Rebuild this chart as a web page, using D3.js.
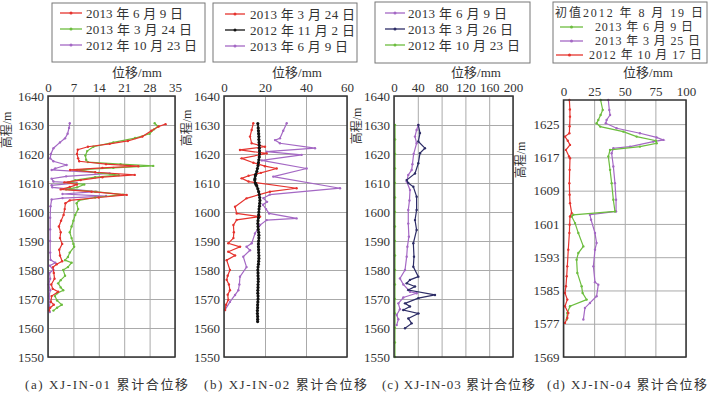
<!DOCTYPE html>
<html>
<head>
<meta charset="utf-8">
<script src="https://cdn.jsdelivr.net/npm/d3@7"></script>
<style>
  body { margin: 0; background: #fff; }
  svg text { font-family: "Liberation Serif", "Noto Sans CJK SC", serif; fill: #333; }
</style>
</head>
<body>
<div id="chart"></div>
<script>
// ---- data: [elevation m, displacement mm] ----

// (a) XJ-IN-01
const a_jun09 = [[1630.3,32.4],[1629.5,30.5],[1628,28.5],[1626,26],[1624.5,22],[1623.5,17],[1622.5,11],[1621.5,8.2],[1620,8],[1618.5,8.3],[1617.5,8.6],[1616.5,16],[1615.8,24.9],[1615.2,15],[1614.5,6.1],[1613.7,13],[1612.8,23.9],[1612,15],[1611,9],[1610.2,4.5],[1609.5,8],[1608.6,6],[1607.8,3.5],[1607,12],[1605.9,21.7],[1605,14],[1604,6],[1603,4.8],[1601,4.6],[1599,4.3],[1597,3.6],[1595,3.0],[1593,3.5],[1591,3.3],[1589,3.9],[1587,3.1],[1585,3.3],[1583,3.9],[1582,2.4],[1581,1.4],[1579,1.6],[1577,1.8],[1575,0.9],[1573.5,1.3],[1572.5,2.8],[1571,1.0],[1569,0.8],[1568,1.6],[1567,0.6],[1566,0.3]];
const a_mar24 = [[1630.6,29.4],[1629.5,30.3],[1628.5,29.2],[1627,28],[1625.5,24],[1624,18],[1622.5,12.5],[1621,10.8],[1619.5,10.3],[1618,10.5],[1617.2,11],[1616.5,20],[1615.9,29],[1615.2,18],[1614.5,8],[1613.5,14],[1612.7,19.5],[1612,13],[1611,7.5],[1610.2,5.5],[1609.5,10],[1608.5,8],[1607.8,5],[1607,13],[1606,20.7],[1605,13],[1604,8.5],[1603,7.9],[1601,8.3],[1599,7.5],[1597,7],[1595,6.5],[1593,6],[1591,6.5],[1589,7],[1588,7.2],[1586,6],[1584.5,5.5],[1583.4,4.7],[1582.5,6.5],[1581,5.5],[1580,4.2],[1578,4.7],[1576.5,3.5],[1575.4,2.8],[1574,3.5],[1573,4.2],[1572,2.5],[1571,1.9],[1569.5,2.5],[1568,3.8],[1567,2.5],[1566,1.5]];
const a_oct23 = [[1630.6,6],[1629,5.8],[1627,5.4],[1625.4,4.7],[1624,3.3],[1622,1.5],[1620,0.8],[1618.5,0.6],[1617.5,1.5],[1616.2,5.1],[1615,2],[1614.5,1],[1613.3,17],[1612.3,5],[1611.5,1],[1610.5,1.5],[1610,7.9],[1609.2,1],[1608.5,1.2],[1607,13.4],[1606.2,4],[1605.5,16],[1604.8,4],[1604.3,1],[1602,0.7],[1598,0.6],[1594,0.6],[1590,0.6],[1586,0.6],[1583.5,0.7],[1582.5,2],[1581.5,0.5],[1580,1.5],[1579,0.4],[1577,0.6],[1575,0.2],[1573,0.6],[1571,0.3],[1569,0.6],[1567,0.3],[1565.5,0.5]];

// (b) XJ-IN-02
const b_mar24 = [[1630.6,14.3],[1628.3,13.5],[1626,12.7],[1623.7,13.5],[1622.5,20],[1621.4,7.8],[1620.2,20.8],[1618.5,8.6],[1617,14.3],[1615.8,20],[1615,25.7],[1613.5,18],[1612.5,12],[1611.6,8.6],[1610.5,12],[1608.2,35.4],[1607,22.4],[1604.7,11],[1601.8,5.4],[1599.5,6.2],[1598.4,17.6],[1597.3,6.2],[1595.5,4.6],[1593,4.8],[1591,4.6],[1589.2,2.1],[1588,7.8],[1586.3,2.1],[1585,5.4],[1583.4,1.3],[1580,2.9],[1578,1.8],[1576.6,1.3],[1575,2.4],[1573,2.9],[1571.5,1.8],[1569.7,2.1],[1568,1.0],[1566.2,0.5]];
const b_nov02 = [[1630.5,16.5],[1629,16.7],[1628,16.8],[1627,16.9],[1626,17],[1625,17],[1624,17.1],[1623,17.2],[1622,17.2],[1621,17.3],[1620,17.3],[1619,17.2],[1618,17],[1617,16.8],[1616,16.6],[1615,16.3],[1614,16],[1613,15.5],[1612.5,15.3],[1611.5,15.1],[1611,15],[1610,15.3],[1609.5,15.6],[1609,16],[1608,16.5],[1607,16.9],[1606,17.2],[1605,17.4],[1604,17.5],[1603,17.4],[1602,17.3],[1601,17.1],[1600,17],[1599,16.9],[1598,16.8],[1597,16.6],[1596,16.5],[1595,16.6],[1594,16.7],[1593,16.9],[1592,17],[1591,17],[1590,16.9],[1589,16.8],[1588,16.8],[1587,16.9],[1586,16.9],[1585,17],[1584,17],[1583,16.9],[1582,16.8],[1581,16.6],[1580,16.5],[1579,16.6],[1578,16.6],[1577,16.7],[1576,16.7],[1575,16.6],[1574,16.6],[1573,16.5],[1572,16.5],[1571,16.6],[1570,16.6],[1569,16.5],[1568,16.4],[1567,16.4],[1566,16.3],[1565,16.3],[1564,16.4],[1563,16.4],[1562.2,16.4]];
const b_jun09 = [[1630.6,30.6],[1628,28.9],[1625.4,27.3],[1624.8,24.9],[1623.7,27.3],[1622,44.4],[1620.8,20.8],[1619.7,37.9],[1617.8,18.4],[1615,40.3],[1612.2,24],[1608.2,56.6],[1606,22.4],[1604.8,19.2],[1603.5,21],[1602.5,19],[1601,20.5],[1599.5,22],[1597.8,35.4],[1597.2,20.8],[1595.5,17.6],[1592.6,15.1],[1589.2,13.5],[1588,11],[1586.8,12.7],[1584.6,9.4],[1581,11],[1577.7,7.8],[1575,7.5],[1573,7],[1571.4,5.4],[1569,2.9],[1566.2,0.5]];

// (c) XJ-IN-03
const c_jun09 = [[1630,40.9],[1628.3,38],[1626,35.3],[1623.7,38],[1620,33],[1616.5,31],[1614.5,29.7],[1612.8,24],[1610.5,21.3],[1607.6,26.9],[1604,26],[1600.7,24],[1596,24],[1591.5,25],[1588,22.5],[1584.6,21.3],[1580,18.5],[1577.1,10],[1575,15.7],[1572.5,26.9],[1572,38],[1570.5,15.7],[1568.5,7.3],[1566.5,10],[1564.5,4.5],[1563,7.3],[1561,4.5]];
const c_mar26 = [[1630,40.9],[1627.2,43.7],[1624.3,40.9],[1622,52],[1620.3,43.7],[1616.8,40.9],[1613.3,35.3],[1611,21.3],[1610,24],[1608.7,32.5],[1605.3,38],[1600.7,38],[1597.2,35.3],[1593.8,38],[1589.2,32.5],[1584.6,33.6],[1581.1,32.5],[1577.7,40.9],[1576.6,26.9],[1575.4,21.3],[1574.3,35.3],[1573.1,24],[1571.4,68.9],[1570.3,40.9],[1568.5,18.5],[1567.4,26.9],[1566.2,15.7],[1565,40.9],[1563.3,24],[1561.6,29.7],[1559.9,18.5]];
const c_oct23 = [[1630,1.7],[1625,1.8],[1620,1.8],[1615,1.7],[1610,1.6],[1605,1.7],[1600,1.7],[1595,1.6],[1590,1.6],[1585,1.7],[1580,1.7],[1575,1.6],[1570,1.6],[1565,1.7],[1560,1.7],[1555,1.6],[1550,1.6]];

// (d) XJ-IN-04
const d_jun09 = [[1630.8,30.3],[1628.4,32],[1627.2,30.3],[1626,28.4],[1625.2,27],[1624.4,30],[1623.2,48.8],[1622,59.7],[1621,75.5],[1620.4,76],[1619.6,62.4],[1618.8,38],[1617.2,36.6],[1614,38],[1610.8,39.3],[1606.8,40.7],[1604,42],[1603.2,8],[1602.8,6.7],[1601.2,9.4],[1598.8,12.1],[1595.6,16.2],[1594,12.1],[1592.4,10.7],[1589.2,11.3],[1586,14.8],[1584.4,15.6],[1582.8,18.9],[1581.2,5.3],[1579.6,3.1],[1578,2.6]];
const d_mar25 = [[1630.8,36.6],[1628.4,37.4],[1627.2,38],[1626,35.2],[1625.2,34.5],[1624,43.4],[1622.8,62.4],[1621.8,76],[1621.2,81.5],[1620.8,73.3],[1619.6,54.3],[1619.2,40.7],[1618,39.3],[1614.8,40.7],[1610.8,42],[1606.8,42.9],[1604,42.9],[1603.2,21.6],[1602,22.5],[1598.8,25.7],[1596.4,27],[1594.8,25.7],[1590.8,24.4],[1587,25.7],[1586.4,28.4],[1583.6,27],[1582,21.6],[1580.8,17.5],[1578,16.2]];
const d_oct17 = [[1630.8,4.8],[1628.5,5.2],[1626.8,5.3],[1624.5,5.0],[1622.8,4.8],[1622,1.2],[1621,3.5],[1620,5.3],[1618.8,2],[1617.2,4.5],[1616.8,5.3],[1614,5],[1610.8,4.8],[1608,5],[1606,5.3],[1603.6,6.7],[1602.8,5.3],[1600.8,5],[1598.8,4.8],[1594.8,3.9],[1590.8,3.1],[1588.4,2.6],[1586,2],[1584.4,1.2],[1582.8,3.1],[1581.2,1.2],[1579.6,3.9],[1578.4,3.1],[1577.2,1.2]];

// axis ticks
const xTicksA = [0, 7, 14, 21, 28, 35];
const xTicksB = [0, 20, 40, 60];
const xTicksC = [0, 40, 80, 120, 160, 200];
const xTicksD = [0, 25, 50, 75, 100];
const elevTicks = [1550, 1560, 1570, 1580, 1590, 1600, 1610, 1620, 1630, 1640];
const elevTicksD = [1569, 1577, 1585, 1593, 1601, 1609, 1617, 1625];

// legend labels
const legendA = ["2013 年 6 月 9 日", "2013 年 3 月 24 日", "2012 年 10 月 23 日"];
const legendB = ["2013 年 3 月 24 日", "2012 年 11 月 2 日", "2013 年 6 月 9 日"];
const legendC = ["2013 年 6 月 9 日", "2013 年 3 月 26 日", "2012 年 10 月 23 日"];
const legendD = ["2013 年 6 月 9 日", "2013 年 3 月 25 日", "2012 年 10 月 17 日"];
const legendDTitle = "初值2012 年 8 月 19 日";
const captions = ["(a) XJ-IN-01 累计合位移", "(b) XJ-IN-02 累计合位移", "(c) XJ-IN-03 累计合位移", "(d) XJ-IN-04 累计合位移"];

// colours
const RED = "#e5332e", GREEN = "#6cbd3e", PURPLE = "#a468c4", BLACK = "#111", NAVY = "#2c2c66";

const svg = d3.select("#chart")
    .append("svg")
    .attr("width", 708)
    .attr("height", 393);

// panel layout
const panels = [
    { left: 48, right: 175, top: 96, bottom: 357, xDomain: [0, 35], xTicks: xTicksA, yDomain: [1550, 1640], yTicks: elevTicks,
      series: [[a_oct23, PURPLE], [a_mar24, GREEN], [a_jun09, RED]],
      titleX: 137, ylabX: 7, ylabY: 130, capX: 25, capW: 163 },
    { left: 224, right: 347, top: 96, bottom: 357, xDomain: [0, 60], xTicks: xTicksB, yDomain: [1550, 1640], yTicks: elevTicks,
      series: [[b_jun09, PURPLE], [b_mar24, RED], [b_nov02, BLACK]],
      titleX: 297, ylabX: 187, ylabY: 128, capX: 204, capW: 163 },
    { left: 394, right: 513, top: 96, bottom: 357, xDomain: [0, 200], xTicks: xTicksC, yDomain: [1550, 1640], yTicks: elevTicks,
      series: [[c_oct23, GREEN], [c_jun09, PURPLE], [c_mar26, NAVY]],
      titleX: 476, ylabX: 357, ylabY: 126, capX: 382, capW: 153 },
    { left: 563.5, right: 686, top: 100, bottom: 357, xDomain: [0, 100], xTicks: xTicksD, yDomain: [1569, 1630.8], yTicks: elevTicksD,
      series: [[d_mar25, PURPLE], [d_jun09, GREEN], [d_oct17, RED]],
      titleX: 648, ylabX: 521, ylabY: 160, capX: 547, capW: 160 }
];

panels.forEach((p, i) => {
    const w = p.right - p.left, h = p.bottom - p.top;
    const g = svg.append("g").attr("transform", `translate(${p.left},${p.top})`);
    const x = d3.scaleLinear().domain(p.xDomain).range([0, w]);
    const y = d3.scaleLinear().domain(p.yDomain).range([h, 0]);

    // grid
    g.append("g")
        .call(d3.axisLeft(y).tickValues(p.yTicks).tickSize(-w).tickFormat(""))
        .call(s => s.select(".domain").remove())
        .selectAll("line").attr("stroke", "#aaa").attr("stroke-width", 1);
    g.append("g")
        .call(d3.axisTop(x).tickValues(p.xTicks).tickSize(-h).tickFormat(""))
        .call(s => s.select(".domain").remove())
        .selectAll("line").attr("stroke", "#aaa").attr("stroke-width", 1);

    // series
    const line = d3.line().x(d => x(d[1])).y(d => y(d[0]));
    p.series.forEach(([data, color]) => {
        g.append("path")
            .datum(data)
            .attr("fill", "none")
            .attr("stroke", color)
            .attr("stroke-width", color === BLACK ? 1.6 : 1.2)
            .attr("d", line);
        g.selectAll(null)
            .data(data)
            .enter()
            .append("circle")
            .attr("cx", d => x(d[1]))
            .attr("cy", d => y(d[0]))
            .attr("r", color === BLACK ? 1.6 : 1.2)
            .attr("fill", color);
    });

    // frame
    g.append("rect")
        .attr("width", w).attr("height", h)
        .attr("fill", "none").attr("stroke", "#333").attr("stroke-width", 1.5);

    // tick labels
    g.append("g")
        .call(d3.axisTop(x).tickValues(p.xTicks).tickSize(0).tickPadding(4).tickFormat(d3.format("d")))
        .call(s => s.select(".domain").remove())
        .selectAll("text").style("font-size", "13px").attr("fill", "#333");
    g.append("g")
        .call(d3.axisLeft(y).tickValues(p.yTicks).tickSize(0).tickPadding(4).tickFormat(d3.format("d")))
        .call(s => s.select(".domain").remove())
        .selectAll("text").style("font-size", "13px").attr("fill", "#333");

    // axis titles
    svg.append("text")
        .attr("x", p.titleX).attr("y", 72)
        .attr("text-anchor", "middle").attr("dominant-baseline", "central")
        .style("font-size", "13px")
        .text("位移/mm");
    svg.append("text")
        .attr("transform", `translate(${p.ylabX},${p.ylabY}) rotate(-90)`)
        .attr("text-anchor", "middle").attr("dominant-baseline", "central")
        .style("font-size", "12px")
        .text("高程/m");

    // caption
    svg.append("text")
        .attr("x", p.capX).attr("y", 384)
        .attr("dominant-baseline", "central")
        .attr("textLength", p.capW).attr("lengthAdjust", "spacing")
        .style("font-size", "13px")
        .text(captions[i]);
});

// legends
const legends = [
    { box: [52, 3, 153, 59], lineX: [60, 82], textX: 86, rows: [13, 29, 45], widths: [97, 106, 111], labels: legendA, colors: [RED, GREEN, PURPLE], fs: 13 },
    { box: [213, 3, 144, 59], lineX: [225, 245], textX: 250, rows: [14, 30, 46], widths: [105, 105, 98], labels: legendB, colors: [RED, BLACK, PURPLE], fs: 13 },
    { box: [375, 2, 155, 61], lineX: [385, 405], textX: 408, rows: [13, 29, 45], widths: [99, 105, 112], labels: legendC, colors: [PURPLE, NAVY, GREEN], fs: 13 },
    { box: [553, 2, 154, 61], lineX: [560, 583], textX: 595, rows: [27, 41, 55], widths: [98, 105, 113], labels: legendD, colors: [GREEN, PURPLE, RED], fs: 12 }
];

legends.forEach(L => {
    const g = svg.append("g");
    g.append("rect")
        .attr("x", L.box[0]).attr("y", L.box[1]).attr("width", L.box[2]).attr("height", L.box[3])
        .attr("fill", "#fff").attr("stroke", "#777").attr("stroke-width", 1);
    L.labels.forEach((lab, j) => {
        const last = L === legends[3] && j === 2;
        const x1 = last ? 556 : L.lineX[0];
        const tx = last ? 589 : L.textX;
        g.append("line")
            .attr("x1", x1).attr("x2", L.lineX[1])
            .attr("y1", L.rows[j]).attr("y2", L.rows[j])
            .attr("stroke", L.colors[j]).attr("stroke-width", 1.3);
        g.append("circle")
            .attr("cx", (x1 + L.lineX[1]) / 2).attr("cy", L.rows[j]).attr("r", 1.5)
            .attr("fill", L.colors[j]);
        g.append("text")
            .attr("x", tx).attr("y", L.rows[j])
            .attr("dominant-baseline", "central")
            .attr("textLength", L.widths[j]).attr("lengthAdjust", "spacing")
            .style("font-size", L.fs + "px")
            .text(lab);
    });
});

svg.append("text")
    .attr("x", 555).attr("y", 13)
    .attr("dominant-baseline", "central")
    .attr("textLength", 148).attr("lengthAdjust", "spacing")
    .style("font-size", "12px")
    .text(legendDTitle);
</script>
</body>
</html>
